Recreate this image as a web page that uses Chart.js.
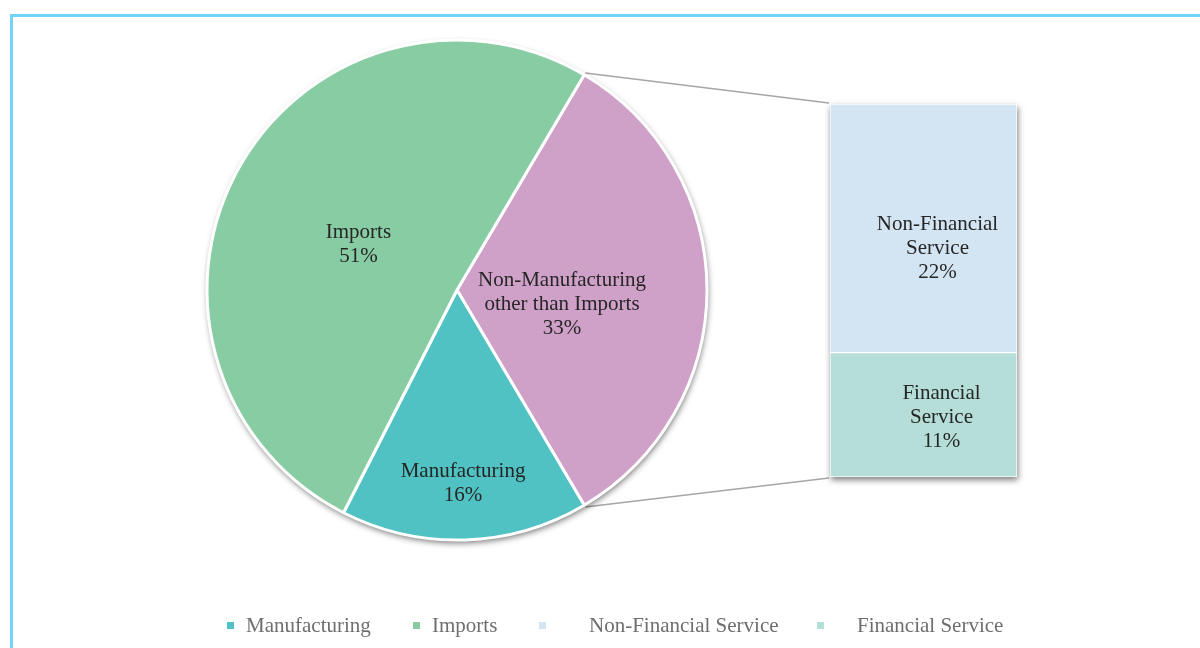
<!DOCTYPE html>
<html>
<head>
<meta charset="utf-8">
<script src="https://cdn.jsdelivr.net/npm/chart.js@4.4.0/dist/chart.umd.min.js"></script>
<style>
  html, body { margin: 0; padding: 0; background: #fff; width: 1200px; height: 648px; overflow: hidden; }
  #frame { position: absolute; left: 10px; top: 14px; width: 1300px; height: 800px;
           border-left: 3px solid #74d3f9; border-top: 3px solid #74d3f9; }
  #lines { position: absolute; left: 0; top: 0; }
  #pie { position: absolute; left: 197px; top: 30px; }
  #bar { position: absolute; left: 820px; top: 94px; }
  #legend { position: absolute; left: 0; top: 611px; width: 1200px; height: 28px;
            font-family: 'Liberation Serif', 'Times New Roman', serif; font-size: 21px; color: #6e6e6e; }
  #legend .txt { position: absolute; top: 0; line-height: 28px; white-space: nowrap; }
  #legend .box { position: absolute; top: 11px; width: 7px; height: 7px; }
</style>
</head>
<body>
<div id="frame"></div>
<canvas id="lines" width="1200" height="648"></canvas>
<canvas id="pie" width="520" height="520"></canvas>
<canvas id="bar" width="207" height="393"></canvas>
<div id="legend"></div>
<script>
// pie: the "other" slice (Non-Manufacturing) is split out in the bar
const pieLabels = ['Non-Manufacturing other than Imports', 'Manufacturing', 'Imports'];
const pieValues = [33, 16, 51];
const pieColors = ['#d0a1c8', '#50c2c3', '#88cca4'];

// bar: breakdown of the Non-Manufacturing slice, bottom to top
const barLabels = ['Financial Service', 'Non-Financial Service'];
const barValues = [11, 22];
const barColors = ['#b4ded7', '#d3e4f2'];

// legend order as in the original
const legendLabels = ['Manufacturing', 'Imports', 'Non-Financial Service', 'Financial Service'];

// label text split over lines
const pieLabelLines = [['Non-Manufacturing', 'other than Imports'], ['Manufacturing'], ['Imports']];
const barLabelLines = [['Financial', 'Service'], ['Non-Financial', 'Service']];

// placement of labels (fraction of radius along mid angle, vertical nudge)
const pieLabelFrac = [0.42, 0.77, 0.45];
const pieLabelDy = [14, 1, 9];
const barLabelDx = [18, 14];
const barLabelDy = [3, 20];
const legendBoxX = [227, 413, 539, 817];
const legendTextX = [246, 432, 589, 857];

const FONT = "21px 'Liberation Serif', 'Times New Roman', serif";
const LINE_H = 24;

function drawLines(ctx, lines, cx, cy) {
    ctx.save();
    ctx.font = FONT;
    ctx.fillStyle = '#262626';
    ctx.textAlign = 'center';
    ctx.textBaseline = 'middle';
    const top = cy - (lines.length - 1) * LINE_H / 2;
    lines.forEach((t, i) => ctx.fillText(t, cx, top + i * LINE_H));
    ctx.restore();
}

const pieExtras = {
    id: 'pieExtras',
    beforeDatasetsDraw(chart) {
        const a = chart.getDatasetMeta(0).data[0];
        const ctx = chart.ctx;
        ctx.save();
        ctx.beginPath();
        ctx.arc(a.x, a.y, a.outerRadius, 0, Math.PI * 2);
        ctx.fillStyle = '#fff';
        ctx.shadowColor = 'rgba(0,0,0,0.55)';
        ctx.shadowBlur = 6;
        ctx.shadowOffsetX = 1;
        ctx.shadowOffsetY = 3;
        ctx.fill();
        ctx.restore();
    },
    afterDatasetsDraw(chart) {
        const ctx = chart.ctx;
        chart.getDatasetMeta(0).data.forEach((a, i) => {
            const mid = (a.startAngle + a.endAngle) / 2;
            const r = a.outerRadius * pieLabelFrac[i];
            const lines = pieLabelLines[i].concat([pieValues[i] + '%']);
            drawLines(ctx, lines, a.x + Math.cos(mid) * r, a.y + Math.sin(mid) * r + pieLabelDy[i]);
        });
    }
};

const barExtras = {
    id: 'barExtras',
    beforeDatasetsDraw(chart) {
        const bottom = chart.getDatasetMeta(0).data[0];
        const top = chart.getDatasetMeta(barValues.length - 1).data[0];
        const ctx = chart.ctx;
        ctx.save();
        ctx.fillStyle = '#fff';
        ctx.shadowColor = 'rgba(0,0,0,0.5)';
        ctx.shadowBlur = 6;
        ctx.shadowOffsetX = 1;
        ctx.shadowOffsetY = 3;
        ctx.fillRect(bottom.x - bottom.width / 2, top.y, bottom.width, bottom.base - top.y);
        ctx.restore();
    },
    afterDatasetsDraw(chart) {
        const ctx = chart.ctx;
        barValues.forEach((v, i) => {
            const el = chart.getDatasetMeta(i).data[0];
            const lines = barLabelLines[i].concat([v + '%']);
            drawLines(ctx, lines, el.x + barLabelDx[i], (el.y + el.base) / 2 + barLabelDy[i]);
        });
    }
};

const pieChart = new Chart(document.getElementById('pie'), {
    type: 'pie',
    data: {
        labels: pieLabels,
        datasets: [{
            data: pieValues,
            backgroundColor: pieColors,
            borderColor: '#fff',
            borderWidth: 3
        }]
    },
    options: {
        responsive: false,
        animation: false,
        rotation: 90 - pieValues[0] * 3.6 / 2,
        radius: 250,
        plugins: { legend: { display: false }, tooltip: { enabled: false } }
    },
    plugins: [pieExtras]
});

const barChart = new Chart(document.getElementById('bar'), {
    type: 'bar',
    data: {
        labels: ['Non-Manufacturing'],
        datasets: barValues.map((v, i) => ({
            label: barLabels[i],
            data: [v],
            backgroundColor: barColors[i],
            borderColor: '#fff',
            borderWidth: 1,
            borderSkipped: false,
            categoryPercentage: 1,
            barPercentage: 1
        }))
    },
    options: {
        responsive: false,
        animation: false,
        layout: { padding: 10 },
        scales: {
            x: { stacked: true, display: false },
            y: { stacked: true, display: false, min: 0, max: barValues.reduce((a, b) => a + b, 0) }
        },
        plugins: { legend: { display: false }, tooltip: { enabled: false } }
    },
    plugins: [barExtras]
});

// connector lines between the split slice and the bar
(function () {
    const pieCanvas = document.getElementById('pie');
    const barCanvas = document.getElementById('bar');
    const a = pieChart.getDatasetMeta(0).data[0];
    const topEl = barChart.getDatasetMeta(barValues.length - 1).data[0];
    const botEl = barChart.getDatasetMeta(0).data[0];
    const px = pieCanvas.offsetLeft + a.x, py = pieCanvas.offsetTop + a.y;
    const r = a.outerRadius + 2;
    const bx = barCanvas.offsetLeft + botEl.x - botEl.width / 2 - 1;
    const ctx = document.getElementById('lines').getContext('2d');
    ctx.strokeStyle = '#a6a6a6';
    ctx.lineWidth = 1.5;
    ctx.beginPath();
    ctx.moveTo(px + Math.cos(a.startAngle) * r, py + Math.sin(a.startAngle) * r);
    ctx.lineTo(bx, barCanvas.offsetTop + topEl.y - 1);
    ctx.moveTo(px + Math.cos(a.endAngle) * r, py + Math.sin(a.endAngle) * r);
    ctx.lineTo(bx, barCanvas.offsetTop + botEl.base + 1);
    ctx.stroke();
})();

// legend
const legendColors = [pieColors[1], pieColors[2], barColors[1], barColors[0]];
const legend = document.getElementById('legend');
legendLabels.forEach((t, i) => {
    const box = document.createElement('span');
    box.className = 'box';
    box.style.left = legendBoxX[i] + 'px';
    box.style.background = legendColors[i];
    legend.appendChild(box);
    const txt = document.createElement('span');
    txt.className = 'txt';
    txt.style.left = legendTextX[i] + 'px';
    txt.textContent = t;
    legend.appendChild(txt);
});
</script>
</body>
</html>
